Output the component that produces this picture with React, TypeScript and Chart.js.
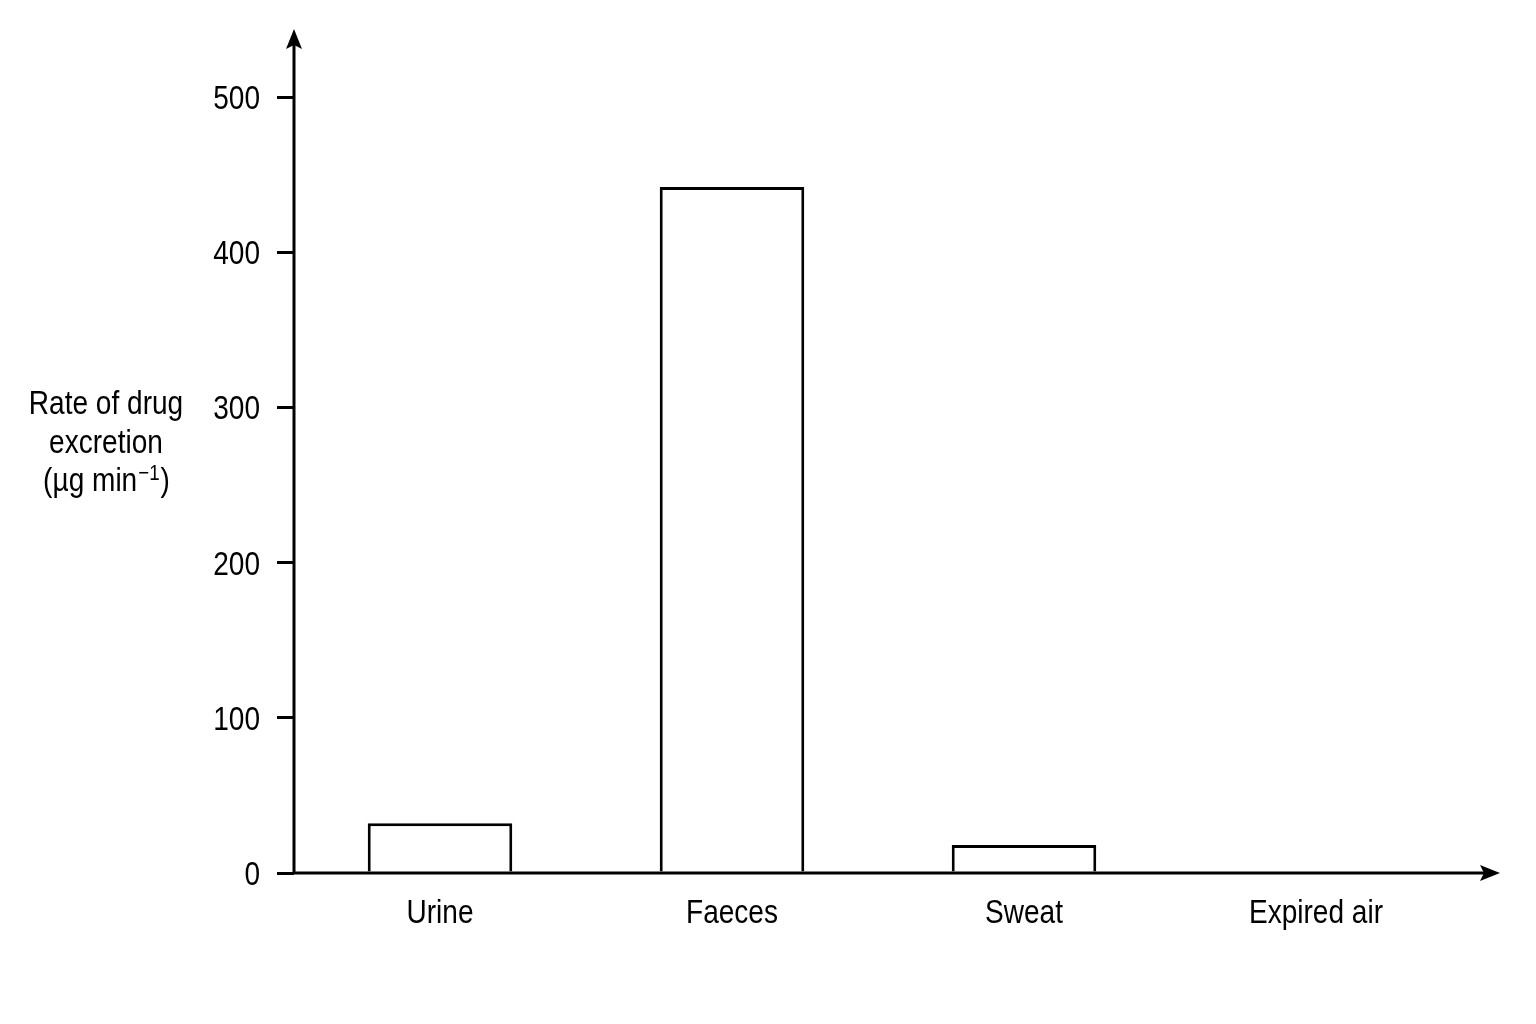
import { useEffect, useRef } from 'react'
import { Chart, registerables } from 'chart.js'
Chart.register(...registerables)

// values (µg per minute)
const categories = ['Urine', 'Faeces', 'Sweat', 'Expired air']
const excretionRate = [32, 442, 18, 0]
const yTickValues = [0, 100, 200, 300, 400, 500]
const yTitleLines = ['Rate of drug', 'excretion']
const yUnit = { pre: '(\u00b5g min', sup: '\u22121', post: ')' }

const FONT = '"Liberation Sans", Arial, sans-serif'
const INK = '#000'
const SQUEEZE = 0.85 // reference uses a narrow sans

function narrowText(ctx: CanvasRenderingContext2D, text: string, x: number, y: number, align: CanvasTextAlign, size = 33) {
  ctx.save()
  ctx.font = `${size}px ${FONT}`
  ctx.textAlign = align
  ctx.textBaseline = 'alphabetic'
  ctx.translate(x, y)
  ctx.scale(SQUEEZE, 1)
  ctx.fillText(text, 0, 0)
  ctx.restore()
}

function narrowWidth(ctx: CanvasRenderingContext2D, text: string, size = 33) {
  ctx.save()
  ctx.font = `${size}px ${FONT}`
  const w = ctx.measureText(text).width * SQUEEZE
  ctx.restore()
  return w
}

// axis lines with arrow heads, tick labels and horizontal y title
const axesPlugin = {
  id: 'axesArrows',
  afterDatasetsDraw(chart: any) {
    const { ctx, chartArea, scales } = chart
    const { left, right, top, bottom } = chartArea
    const yEnd = top - 68
    const xEnd = right + 38
    ctx.save()
    ctx.strokeStyle = INK
    ctx.fillStyle = INK
    ctx.lineWidth = 3
    ctx.lineCap = 'butt'
    ctx.beginPath()
    ctx.moveTo(left, bottom + 1.5)
    ctx.lineTo(left, yEnd + 10)
    ctx.moveTo(left - 1.5, bottom)
    ctx.lineTo(xEnd - 10, bottom)
    ctx.stroke()
    // y arrow
    ctx.beginPath()
    ctx.moveTo(left, yEnd)
    ctx.lineTo(left + 8, yEnd + 20)
    ctx.lineTo(left, yEnd + 16)
    ctx.lineTo(left - 8, yEnd + 20)
    ctx.closePath()
    ctx.fill()
    // x arrow
    ctx.beginPath()
    ctx.moveTo(xEnd, bottom)
    ctx.lineTo(xEnd - 20, bottom - 8)
    ctx.lineTo(xEnd - 16, bottom)
    ctx.lineTo(xEnd - 20, bottom + 8)
    ctx.closePath()
    ctx.fill()

    // tick labels from the scales
    const ys = scales.y
    ys.ticks.forEach((t: any, i: number) => {
      narrowText(ctx, String(t.value), left - 34, ys.getPixelForTick(i) + 12, 'right')
    })
    const xs = scales.x
    xs.ticks.forEach((t: any, i: number) => {
      narrowText(ctx, String(xs.getLabelForValue(t.value)), xs.getPixelForTick(i), bottom + 50, 'center')
    })

    // y axis title
    const cx = left - 188
    const base = [414, 453]
    yTitleLines.forEach((t, i) => narrowText(ctx, t, cx, base[i], 'center'))
    const supSize = 22
    const wPre = narrowWidth(ctx, yUnit.pre)
    const wSup = narrowWidth(ctx, yUnit.sup, supSize) + 1
    const wPost = narrowWidth(ctx, yUnit.post)
    let x = cx - (wPre + wSup + wPost) / 2
    const b3 = 491
    narrowText(ctx, yUnit.pre, x, b3, 'left')
    x += wPre + 1
    narrowText(ctx, yUnit.sup, x, b3 - 11, 'left', supSize)
    x += wSup
    narrowText(ctx, yUnit.post, x, b3, 'left')
    ctx.restore()
  }
}

export default function App() {
  const ref = useRef<HTMLCanvasElement | null>(null)
  useEffect(() => {
    if (!ref.current) return
    const chart = new Chart(ref.current, {
      type: 'bar',
      data: {
        labels: categories,
        datasets: [{
          label: 'Rate of drug excretion',
          data: excretionRate,
          backgroundColor: '#fff',
          borderColor: INK,
          borderWidth: 3,
          borderSkipped: 'bottom',
          barPercentage: 0.495,
          categoryPercentage: 1
        }]
      },
      options: {
        animation: false,
        responsive: true,
        maintainAspectRatio: false,
        layout: { padding: { top: 97, right: 74, bottom: 0, left: 0 } },
        plugins: { legend: { display: false }, tooltip: { enabled: false } },
        scales: {
          x: {
            grid: { display: false, drawTicks: false },
            border: { display: false },
            ticks: { display: false },
            afterFit: (s: any) => { s.height = 151 }
          },
          y: {
            min: yTickValues[0],
            max: yTickValues[yTickValues.length - 1],
            ticks: { display: false, stepSize: yTickValues[1] - yTickValues[0] },
            grid: { drawOnChartArea: false, drawTicks: true, tickLength: 17, color: INK, lineWidth: 3 },
            border: { display: false },
            afterFit: (s: any) => { s.width = 294 }
          }
        }
      },
      plugins: [axesPlugin]
    })
    return () => chart.destroy()
  }, [])
  return (
    <div style={{ position: 'fixed', left: 0, top: 0, width: 1536, height: 1024, background: '#fff' }}>
      <canvas ref={ref} />
    </div>
  )
}
